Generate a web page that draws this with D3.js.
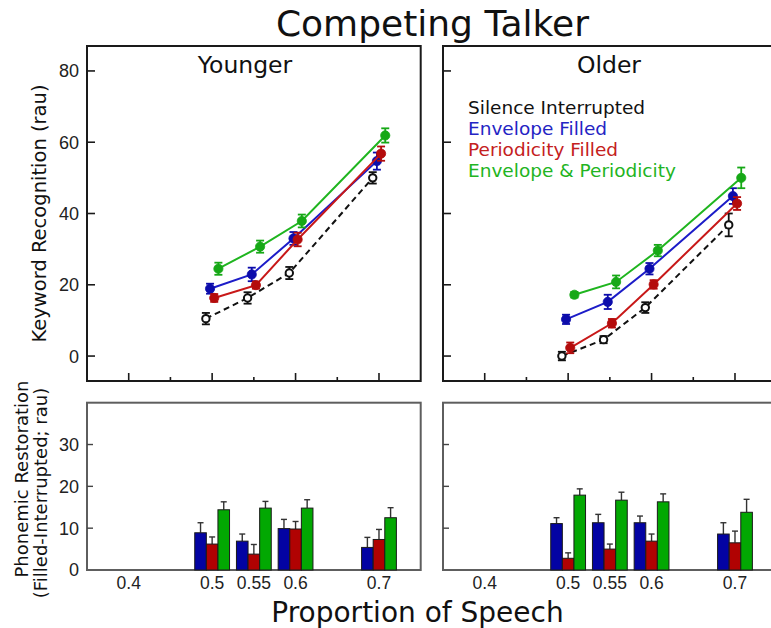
<!DOCTYPE html>
<html>
<head>
<meta charset="utf-8">
<script src="https://cdn.jsdelivr.net/npm/d3@7"></script>
<style>
  html, body { margin: 0; padding: 0; background: #fff; }
  svg { display: block; }
</style>
</head>
<body>
<svg id="chart" width="771" height="628"></svg>
<script>
// ---- data -------------------------------------------------------------
const proportions = [0.5, 0.55, 0.6, 0.7];
const xMajorTicks = [0.4, 0.5, 0.6, 0.7];
const xMinorTicks = [0.45, 0.55, 0.65];
const xTickLabels = ["0.4", "0.5", "0.55", "0.6", "0.7"];
const xTickValues = [0.4, 0.5, 0.55, 0.6, 0.7];
const yTopTicks = [0, 20, 40, 60, 80];
const yBottomTicks = [0, 10, 20, 30];

const groups = ["Younger", "Older"];
const conditions = ["Silence Interrupted", "Envelope Filled", "Periodicity Filled", "Envelope & Periodicity"];

// Keyword recognition (rau): means and standard errors, younger listeners
const youngerSilence      = [10.5, 16.3, 23.3, 50.0];
const youngerSilenceSE    = [1.6, 1.6, 1.7, 1.6];
const youngerEnvelope     = [18.9, 22.9, 33.0, 54.7];
const youngerEnvelopeSE   = [1.4, 1.9, 1.8, 2.4];
const youngerPeriodicity  = [16.3, 19.9, 32.7, 56.8];
const youngerPeriodicitySE= [1.1, 1.0, 1.9, 2.0];
const youngerBoth         = [24.5, 30.7, 37.9, 61.9];
const youngerBothSE       = [1.7, 1.7, 1.8, 2.0];

// Keyword recognition (rau): means and standard errors, older listeners
const olderSilence        = [0.0, 4.6, 13.6, 36.8];
const olderSilenceSE      = [1.2, 1.0, 1.5, 3.2];
const olderEnvelope       = [10.3, 15.2, 24.5, 44.9];
const olderEnvelopeSE     = [1.3, 2.0, 1.6, 2.2];
const olderPeriodicity    = [2.3, 9.2, 20.1, 42.8];
const olderPeriodicitySE  = [1.5, 1.2, 1.2, 1.8];
const olderBoth           = [17.2, 20.8, 29.6, 50.0];
const olderBothSE         = [0.8, 1.8, 1.6, 2.9];

// Phonemic restoration (filled minus interrupted, rau) with upper error
const youngerRestEnvelope     = [8.9, 6.9, 9.9, 5.4];
const youngerRestEnvelopeSE   = [2.4, 1.7, 2.2, 2.4];
const youngerRestPeriodicity  = [6.2, 3.8, 9.8, 7.3];
const youngerRestPeriodicitySE= [1.7, 2.3, 1.8, 2.4];
const youngerRestBoth         = [14.4, 14.8, 14.8, 12.5];
const youngerRestBothSE       = [1.9, 1.6, 2.0, 2.4];

const olderRestEnvelope       = [11.1, 11.3, 11.3, 8.6];
const olderRestEnvelopeSE     = [1.4, 2.0, 1.6, 2.7];
const olderRestPeriodicity    = [2.8, 5.0, 6.9, 6.5];
const olderRestPeriodicitySE  = [1.3, 1.2, 1.7, 2.8];
const olderRestBoth           = [17.9, 16.7, 16.3, 13.8];
const olderRestBothSE         = [1.5, 1.9, 1.9, 3.1];

// ---- styling ----------------------------------------------------------
const lineColors   = ["#111111", "#1c1cc8", "#c81818", "#1fb51f"];
const markerColors = ["#111111", "#0c0cab", "#b40c0c", "#16a816"];
const legendColors = ["#111111", "#2424c4", "#c42020", "#22b422"];
const barColors    = ["#0303a3", "#b00202", "#02a802"];
const titleFont = "'DejaVu Sans', sans-serif";
const tickFont  = "'Liberation Sans', Arial, sans-serif";

// series tables built from the arrays above
const lineData = {
  Younger: [
    [youngerSilence, youngerSilenceSE],
    [youngerEnvelope, youngerEnvelopeSE],
    [youngerPeriodicity, youngerPeriodicitySE],
    [youngerBoth, youngerBothSE]
  ],
  Older: [
    [olderSilence, olderSilenceSE],
    [olderEnvelope, olderEnvelopeSE],
    [olderPeriodicity, olderPeriodicitySE],
    [olderBoth, olderBothSE]
  ]
};
const barData = {
  Younger: [
    [youngerRestEnvelope, youngerRestEnvelopeSE],
    [youngerRestPeriodicity, youngerRestPeriodicitySE],
    [youngerRestBoth, youngerRestBothSE]
  ],
  Older: [
    [olderRestEnvelope, olderRestEnvelopeSE],
    [olderRestPeriodicity, olderRestPeriodicitySE],
    [olderRestBoth, olderRestBothSE]
  ]
};

// ---- layout -----------------------------------------------------------
const svg = d3.select("#chart");
const panelWidth = 333.7;
const panelLefts = [87, 443];
const topPanel = { y0: 46, y1: 381 };
const bottomPanel = { y0: 402.7, y1: 570 };
const seriesOffset = [-0.0075, -0.0025, 0.0025, 0.0075];   // small horizontal dodge in data units
const barWidth = 11.6;

const yTop = d3.scaleLinear().domain([-7, 87]).range([topPanel.y1, topPanel.y0]);
const yBottom = d3.scaleLinear().domain([0, 40]).range([bottomPanel.y1, bottomPanel.y0]);

// overall title
svg.append("text")
  .attr("x", 432.5).attr("y", 36)
  .attr("text-anchor", "middle")
  .style("font-family", titleFont).style("font-size", "36px")
  .attr("fill", "#111")
  .text("Competing Talker");

groups.forEach((group, gi) => {
  const left = panelLefts[gi];
  const x = d3.scaleLinear().domain([0.35, 0.75]).range([left, left + panelWidth]);

  // ---------- upper panel: keyword recognition ----------
  const top = svg.append("g");

  top.append("rect")
    .attr("x", left).attr("y", topPanel.y0)
    .attr("width", panelWidth).attr("height", topPanel.y1 - topPanel.y0)
    .attr("fill", "none").attr("stroke", "#1a1a1a").attr("stroke-width", 2);

  // inward y ticks
  top.selectAll(".ytick").data(yTopTicks).join("line")
    .attr("x1", left).attr("x2", left + 8)
    .attr("y1", d => yTop(d)).attr("y2", d => yTop(d))
    .attr("stroke", "#1a1a1a").attr("stroke-width", 1.6);

  // inward x ticks (major longer, minor shorter)
  top.selectAll(".xmaj").data(xMajorTicks).join("line")
    .attr("x1", d => x(d)).attr("x2", d => x(d))
    .attr("y1", topPanel.y1).attr("y2", topPanel.y1 - 8)
    .attr("stroke", "#1a1a1a").attr("stroke-width", 1.6);
  top.selectAll(".xmin").data(xMinorTicks).join("line")
    .attr("x1", d => x(d)).attr("x2", d => x(d))
    .attr("y1", topPanel.y1).attr("y2", topPanel.y1 - 4)
    .attr("stroke", "#1a1a1a").attr("stroke-width", 1.6);

  if (gi === 0) {
    top.selectAll(".ylab").data(yTopTicks).join("text")
      .attr("x", left - 8).attr("y", d => yTop(d)).attr("dy", "0.36em")
      .attr("text-anchor", "end")
      .style("font-family", tickFont).style("font-size", "18px")
      .attr("fill", "#222")
      .text(d => d);
  }

  // group label
  top.append("text")
    .attr("x", gi === 0 ? 245 : 609).attr("y", 73)
    .attr("text-anchor", "middle")
    .style("font-family", titleFont).style("font-size", "23.5px")
    .attr("fill", "#111")
    .text(group);

  const series = lineData[group];
  series.forEach(([means, ses], si) => {
    const pts = proportions.map((p, i) => ({ x: p + seriesOffset[si], m: means[i], se: ses[i] }));
    const line = d3.line().x(d => x(d.x)).y(d => yTop(d.m));

    top.append("path")
      .datum(pts)
      .attr("d", line)
      .attr("fill", "none")
      .attr("stroke", lineColors[si])
      .attr("stroke-width", 2)
      .attr("stroke-dasharray", si === 0 ? "6,4" : null);

    const eb = top.append("g").attr("stroke", markerColors[si]).attr("stroke-width", 1.8);
    eb.selectAll(".v").data(pts).join("line")
      .attr("x1", d => x(d.x)).attr("x2", d => x(d.x))
      .attr("y1", d => yTop(d.m - d.se)).attr("y2", d => yTop(d.m + d.se));
    eb.selectAll(".capHi").data(pts).join("line")
      .attr("x1", d => x(d.x) - 4).attr("x2", d => x(d.x) + 4)
      .attr("y1", d => yTop(d.m + d.se)).attr("y2", d => yTop(d.m + d.se));
    eb.selectAll(".capLo").data(pts).join("line")
      .attr("x1", d => x(d.x) - 4).attr("x2", d => x(d.x) + 4)
      .attr("y1", d => yTop(d.m - d.se)).attr("y2", d => yTop(d.m - d.se));

    top.selectAll(".pt" + si).data(pts).join("circle")
      .attr("cx", d => x(d.x)).attr("cy", d => yTop(d.m))
      .attr("r", si === 0 ? 3.7 : 4.6)
      .attr("fill", si === 0 ? "#fff" : markerColors[si])
      .attr("stroke", markerColors[si])
      .attr("stroke-width", si === 0 ? 2 : 0.8);
  });

  // legend inside the older panel
  if (gi === 1) {
    top.selectAll(".legend").data(conditions).join("text")
      .attr("x", left + 25).attr("y", (d, i) => 114 + i * 21)
      .style("font-family", titleFont).style("font-size", "18.5px")
      .attr("fill", (d, i) => legendColors[i])
      .text(d => d);
  }

  // ---------- lower panel: phonemic restoration ----------
  const bot = svg.append("g");

  bot.append("rect")
    .attr("x", left).attr("y", bottomPanel.y0)
    .attr("width", panelWidth).attr("height", bottomPanel.y1 - bottomPanel.y0)
    .attr("fill", "none").attr("stroke", "#5e5e5e").attr("stroke-width", 2);

  bot.selectAll(".ytick").data(yBottomTicks.filter(d => d > 0)).join("line")
    .attr("x1", left).attr("x2", left + 6)
    .attr("y1", d => yBottom(d)).attr("y2", d => yBottom(d))
    .attr("stroke", "#444").attr("stroke-width", 1.4);

  if (gi === 0) {
    bot.selectAll(".ylab").data(yBottomTicks).join("text")
      .attr("x", left - 8).attr("y", d => yBottom(d)).attr("dy", "0.36em")
      .attr("text-anchor", "end")
      .style("font-family", tickFont).style("font-size", "18px")
      .attr("fill", "#222")
      .text(d => d);
  }

  const bars = barData[group];
  bars.forEach(([vals, ses], bi) => {
    const items = proportions.map((p, i) => ({ p, v: vals[i], se: ses[i] }));
    const bx = d => x(d.p) + (bi - 1.5) * barWidth;

    bot.selectAll(".err" + bi).data(items).join("line")
      .attr("x1", d => bx(d) + barWidth / 2).attr("x2", d => bx(d) + barWidth / 2)
      .attr("y1", d => yBottom(d.v)).attr("y2", d => yBottom(d.v + d.se))
      .attr("stroke", "#333").attr("stroke-width", 1.4);
    bot.selectAll(".cap" + bi).data(items).join("line")
      .attr("x1", d => bx(d) + barWidth / 2 - 3).attr("x2", d => bx(d) + barWidth / 2 + 3)
      .attr("y1", d => yBottom(d.v + d.se)).attr("y2", d => yBottom(d.v + d.se))
      .attr("stroke", "#333").attr("stroke-width", 1.4);

    bot.selectAll(".bar" + bi).data(items).join("rect")
      .attr("x", bx)
      .attr("y", d => yBottom(d.v))
      .attr("width", barWidth)
      .attr("height", d => yBottom(0) - yBottom(d.v))
      .attr("fill", barColors[bi])
      .attr("stroke", "#1a1a1a").attr("stroke-width", 1);
  });

  // x tick labels under the lower panel
  bot.selectAll(".xlab").data(xTickValues).join("text")
    .attr("x", d => x(d)).attr("y", 589)
    .attr("text-anchor", "middle")
    .style("font-family", tickFont).style("font-size", "17.5px")
    .attr("fill", "#222")
    .text((d, i) => xTickLabels[i]);
});

// axis titles
svg.append("text")
  .attr("transform", "translate(46,213.5) rotate(-90)")
  .attr("text-anchor", "middle")
  .style("font-family", titleFont).style("font-size", "19.5px")
  .attr("fill", "#111")
  .text("Keyword Recognition (rau)");

svg.append("text")
  .attr("transform", "translate(28,479) rotate(-90)")
  .attr("text-anchor", "middle")
  .style("font-family", titleFont).style("font-size", "18px")
  .attr("fill", "#111")
  .text("Phonemic Restoration");

svg.append("text")
  .attr("transform", "translate(47,493) rotate(-90)")
  .attr("text-anchor", "middle")
  .style("font-family", titleFont).style("font-size", "18px")
  .attr("fill", "#111")
  .text("(Filled-Interrupted; rau)");

svg.append("text")
  .attr("x", 417.5).attr("y", 622)
  .attr("text-anchor", "middle")
  .style("font-family", titleFont).style("font-size", "28px")
  .attr("fill", "#111")
  .text("Proportion of Speech");
</script>
</body>
</html>
